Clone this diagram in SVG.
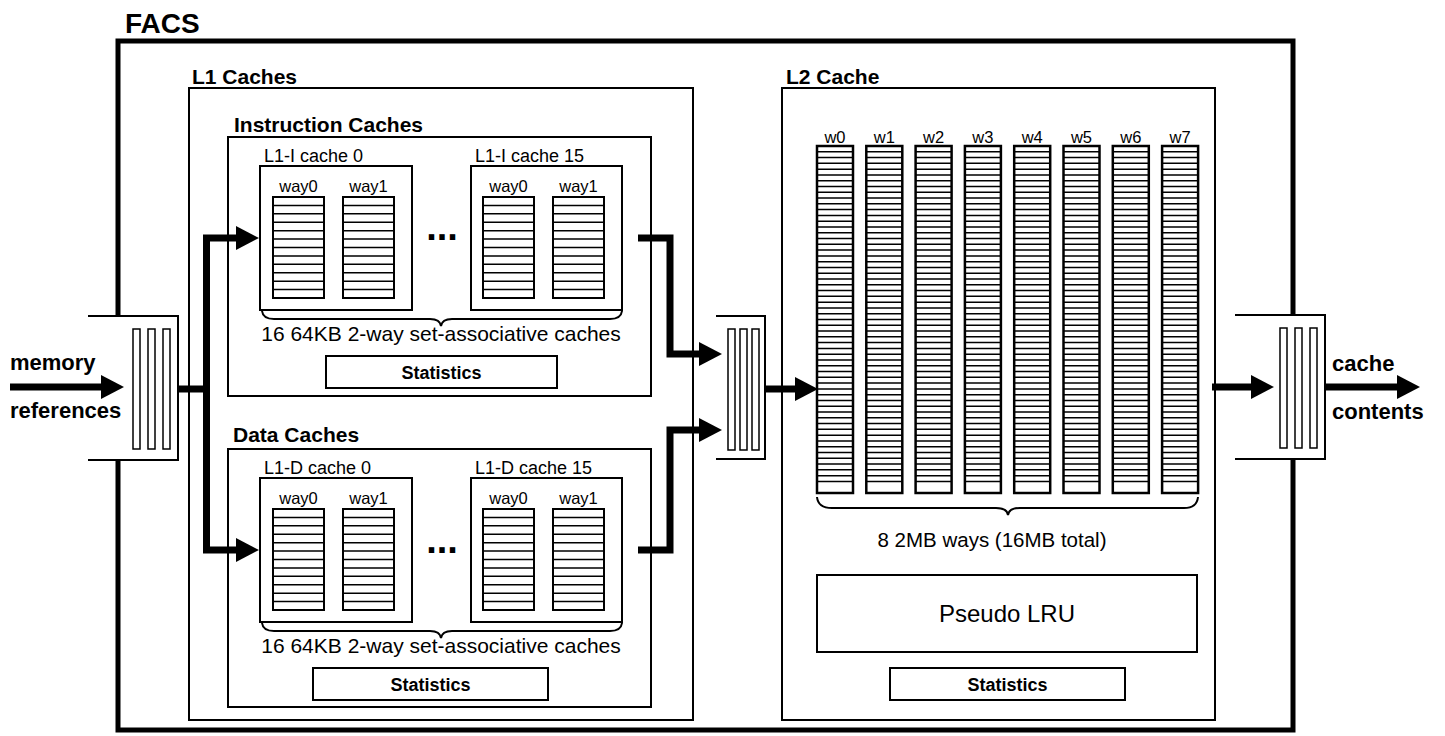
<svg xmlns="http://www.w3.org/2000/svg" width="1445" height="736" viewBox="0 0 1445 736">
  <defs>
    <style>
      .t { font-family: "Liberation Sans", Arial, sans-serif; fill: #000; }
      .b { font-weight: bold; }
      .mid { text-anchor: middle; }
      .frame { fill: none; stroke: #000; stroke-width: 5; }
      .box { fill: none; stroke: #000; stroke-width: 2; }
      .wbox { fill: #fff; stroke: #000; stroke-width: 2; }
      .row { fill: none; stroke: #000; stroke-width: 1.5; }
      .slot { fill: #fff; stroke: #000; stroke-width: 1.5; }
      .brace { fill: none; stroke: #000; stroke-width: 2; }
      .wire { fill: none; stroke: #000; stroke-width: 7; stroke-linejoin: miter; }
      .flow { fill: none; stroke: #000; stroke-width: 7; stroke-linejoin: miter; marker-end: url(#head); }
    </style>
    <marker id="head" viewBox="0 -12 23 24" refX="0" refY="0" markerWidth="23" markerHeight="24" markerUnits="userSpaceOnUse" orient="auto">
      <path d="M0,-12 L23,0 L0,12 Z" fill="#000"/>
    </marker>
    <!-- one way of an L1 cache: 12 sets -->
    <g id="l1way">
      <rect class="wbox" x="0" y="0" width="51" height="101"/>
      <path class="row" d="M0,8.417h51m-51,8.417h51m-51,8.417h51m-51,8.417h51m-51,8.417h51m-51,8.417h51m-51,8.417h51m-51,8.417h51m-51,8.417h51m-51,8.417h51m-51,8.417h51"/>
    </g>
    <!-- one way of the L2 cache: 60 sets -->
    <g id="l2way">
      <rect class="wbox" x="0" y="0" width="36" height="347" style="stroke-width:2.5"/>
      <path class="row" d="M0,5.783h36m-36,5.783h36m-36,5.783h36m-36,5.783h36m-36,5.783h36m-36,5.783h36m-36,5.783h36m-36,5.783h36m-36,5.783h36m-36,5.783h36m-36,5.783h36m-36,5.783h36m-36,5.783h36m-36,5.783h36m-36,5.783h36m-36,5.783h36m-36,5.783h36m-36,5.783h36m-36,5.783h36m-36,5.783h36m-36,5.783h36m-36,5.783h36m-36,5.783h36m-36,5.783h36m-36,5.783h36m-36,5.783h36m-36,5.783h36m-36,5.783h36m-36,5.783h36m-36,5.783h36m-36,5.783h36m-36,5.783h36m-36,5.783h36m-36,5.783h36m-36,5.783h36m-36,5.783h36m-36,5.783h36m-36,5.783h36m-36,5.783h36m-36,5.783h36m-36,5.783h36m-36,5.783h36m-36,5.783h36m-36,5.783h36m-36,5.783h36m-36,5.783h36m-36,5.783h36m-36,5.783h36m-36,5.783h36m-36,5.783h36m-36,5.783h36m-36,5.783h36m-36,5.783h36m-36,5.783h36m-36,5.783h36m-36,5.783h36m-36,5.783h36m-36,5.783h36"/>
    </g>
    <!-- wide FIFO queue, open on its left side -->
    <g id="queue">
      <path d="M0,0 H90 V144 H0" fill="#fff" stroke="#000" stroke-width="2"/>
      <rect class="slot" x="45" y="13" width="7" height="120"/>
      <rect class="slot" x="60" y="13" width="7" height="120"/>
      <rect class="slot" x="75" y="13" width="7" height="120"/>
    </g>
  </defs>

  <rect width="1445" height="736" fill="#fff"/>

  <!-- simulator frame -->
  <g id="facs">
    <rect class="frame" x="118" y="41" width="1175" height="689"/>
    <text class="t b" x="125" y="33" font-size="28">FACS</text>
  </g>

  <!-- L1 caches -->
  <g id="l1-caches">
    <rect class="box" x="189" y="88" width="504" height="632"/>
    <text class="t b" x="192" y="84" font-size="21">L1 Caches</text>
  </g>

  <g id="instruction-caches">
    <rect class="box" x="228" y="137" width="423" height="259"/>
    <text class="t b" x="234" y="132" font-size="21">Instruction Caches</text>
    <g id="l1i-0">
      <rect class="box" x="260" y="166" width="152" height="144"/>
      <text class="t" x="264" y="162" font-size="18">L1-I cache 0</text>
      <text class="t mid" x="298.5" y="192" font-size="16.5">way0</text>
      <text class="t mid" x="368.5" y="192" font-size="16.5">way1</text>
      <use href="#l1way" x="273" y="197"/>
      <use href="#l1way" x="343" y="197"/>
    </g>
    <text class="t b mid" x="442" y="240" font-size="38">...</text>
    <g id="l1i-15">
      <rect class="box" x="471" y="166" width="151" height="144"/>
      <text class="t" x="475" y="162" font-size="18">L1-I cache 15</text>
      <text class="t mid" x="508.5" y="192" font-size="16.5">way0</text>
      <text class="t mid" x="578.5" y="192" font-size="16.5">way1</text>
      <use href="#l1way" x="483" y="197"/>
      <use href="#l1way" x="553" y="197"/>
    </g>
    <path class="brace" d="M262,311 Q263,319 274,319 H430 Q440,319 441,326 Q442,319 452,319 H610 Q621,319 622,311"/>
    <text class="t mid" x="441" y="341" font-size="21">16 64KB 2-way set-associative caches</text>
    <g id="l1i-stats">
      <rect class="box" x="326" y="356" width="231" height="32"/>
      <text class="t b mid" x="441.5" y="378.5" font-size="18">Statistics</text>
    </g>
  </g>

  <g id="data-caches">
    <rect class="box" x="228" y="449" width="423" height="258"/>
    <text class="t b" x="233" y="442" font-size="21">Data Caches</text>
    <g id="l1d-0">
      <rect class="box" x="260" y="478" width="152" height="144"/>
      <text class="t" x="264" y="474" font-size="18">L1-D cache 0</text>
      <text class="t mid" x="298.5" y="504" font-size="16.5">way0</text>
      <text class="t mid" x="368.5" y="504" font-size="16.5">way1</text>
      <use href="#l1way" x="273" y="509"/>
      <use href="#l1way" x="343" y="509"/>
    </g>
    <text class="t b mid" x="442" y="553" font-size="38">...</text>
    <g id="l1d-15">
      <rect class="box" x="471" y="478" width="151" height="144"/>
      <text class="t" x="475" y="474" font-size="18">L1-D cache 15</text>
      <text class="t mid" x="508.5" y="504" font-size="16.5">way0</text>
      <text class="t mid" x="578.5" y="504" font-size="16.5">way1</text>
      <use href="#l1way" x="483" y="509"/>
      <use href="#l1way" x="553" y="509"/>
    </g>
    <path class="brace" d="M262,623 Q263,631 274,631 H430 Q440,631 441,638 Q442,631 452,631 H610 Q621,631 622,623"/>
    <text class="t mid" x="441" y="653" font-size="21">16 64KB 2-way set-associative caches</text>
    <g id="l1d-stats">
      <rect class="box" x="313" y="668" width="235" height="32"/>
      <text class="t b mid" x="430.5" y="690.5" font-size="18">Statistics</text>
    </g>
  </g>

  <!-- shared L2 cache -->
  <g id="l2-cache">
    <rect class="box" x="782" y="88" width="433" height="632"/>
    <text class="t b" x="786" y="84" font-size="21">L2 Cache</text>
    <g id="l2-ways">
      <text class="t mid" x="835" y="143" font-size="16.5">w0</text>
      <text class="t mid" x="884.3" y="143" font-size="16.5">w1</text>
      <text class="t mid" x="933.6" y="143" font-size="16.5">w2</text>
      <text class="t mid" x="982.9" y="143" font-size="16.5">w3</text>
      <text class="t mid" x="1032.2" y="143" font-size="16.5">w4</text>
      <text class="t mid" x="1081.5" y="143" font-size="16.5">w5</text>
      <text class="t mid" x="1130.8" y="143" font-size="16.5">w6</text>
      <text class="t mid" x="1180.1" y="143" font-size="16.5">w7</text>
      <use href="#l2way" x="817" y="146"/>
      <use href="#l2way" x="866.3" y="146"/>
      <use href="#l2way" x="915.6" y="146"/>
      <use href="#l2way" x="964.9" y="146"/>
      <use href="#l2way" x="1014.2" y="146"/>
      <use href="#l2way" x="1063.5" y="146"/>
      <use href="#l2way" x="1112.8" y="146"/>
      <use href="#l2way" x="1162.1" y="146"/>
    </g>
    <path class="brace" d="M817,497 Q818,508 832,508 H996 Q1007,508 1008,515 Q1009,508 1020,508 H1184 Q1197,508 1198,497"/>
    <text class="t mid" x="992" y="547" font-size="20.5">8 2MB ways (16MB total)</text>
    <g id="plru">
      <rect class="box" x="817" y="575" width="380" height="77"/>
      <text class="t mid" x="1007" y="622" font-size="24">Pseudo LRU</text>
    </g>
    <g id="l2-stats">
      <rect class="box" x="890" y="668" width="235" height="32"/>
      <text class="t b mid" x="1007.5" y="690.5" font-size="18">Statistics</text>
    </g>
  </g>

  <!-- request / result queues -->
  <g id="input-queue">
    <use href="#queue" x="88" y="316"/>
  </g>
  <g id="l1-l2-queue">
    <path d="M716,316 H765 V459 H716" fill="#fff" stroke="#000" stroke-width="2"/>
    <rect class="slot" x="728" y="329" width="7" height="121"/>
    <rect class="slot" x="740" y="329" width="7" height="121"/>
    <rect class="slot" x="752" y="329" width="7" height="121"/>
  </g>
  <g id="output-queue">
    <use href="#queue" x="1235" y="315"/>
  </g>

  <!-- data flow -->
  <g id="connectors">
    <path class="flow" d="M10,387 H101"/>
    <path class="wire" d="M178,389 H206.5"/>
    <path class="flow" d="M206.5,392 V238 H236"/>
    <path class="flow" d="M206.5,386 V550 H236"/>
    <path class="flow" d="M638,238 H670 V354 H699"/>
    <path class="flow" d="M638,550 H670 V430 H699"/>
    <path class="flow" d="M765,389 H795"/>
    <path class="flow" d="M1212,387 H1251"/>
    <path class="flow" d="M1325,387 H1397"/>
  </g>

  <g id="labels">
    <text class="t b" x="10" y="370" font-size="22">memory</text>
    <text class="t b" x="10" y="418" font-size="22">references</text>
    <text class="t b" x="1332" y="371" font-size="22">cache</text>
    <text class="t b" x="1332" y="419" font-size="22">contents</text>
  </g>
</svg>
